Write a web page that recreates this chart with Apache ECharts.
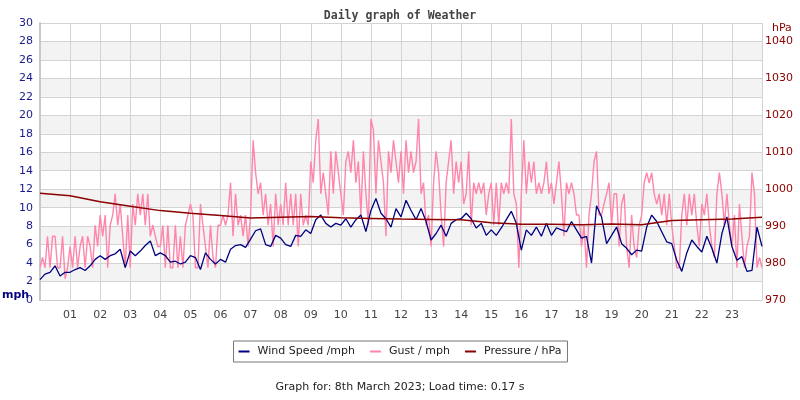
<!DOCTYPE html>
<html>
<head>
<meta charset="utf-8">
<title>Daily graph of Weather</title>
<script src="https://cdn.jsdelivr.net/npm/echarts@6/dist/echarts.min.js"></script>
<style>
  html, body { margin: 0; padding: 0; background: #fff; }
  #chart { width: 800px; height: 400px; }
</style>
</head>
<body>
<div id="chart"></div>
<script>
// hour tick labels (00 and 24 are left blank)
const hourLabels = ['', '01', '02', '03', '04', '05', '06', '07', '08', '09', '10', '11', '12',
  '13', '14', '15', '16', '17', '18', '19', '20', '21', '22', '23', '']

// wind speed, mph, one reading per 10 minutes (00:00 .. 24:00)
const windSpeed = [
  2.2, 2.8, 3.0, 3.7, 2.6, 3.0,
  3.0, 3.3, 3.5, 3.2, 3.7, 4.4,
  4.8, 4.4, 4.8, 5.0, 5.5, 3.5,
  5.3, 4.8, 5.3, 5.9, 6.4, 4.8,
  5.1, 4.8, 4.1, 4.2, 3.9, 4.1,
  4.8, 4.6, 3.3, 5.1, 4.4, 3.9,
  4.4, 4.1, 5.5, 5.9, 6.0, 5.7,
  6.6, 7.5, 7.7, 6.0, 5.8, 7.0,
  6.7, 6.0, 5.8, 7.0, 6.9, 7.6,
  7.2, 8.7, 9.2, 8.3, 7.9, 8.3,
  8.1, 8.8, 7.9, 8.7, 9.2, 7.4,
  9.7, 11.0, 9.4, 8.8, 7.9, 9.9,
  9.0, 10.8, 9.7, 8.7, 9.9, 8.5,
  6.5, 7.2, 8.1, 6.9, 8.3, 8.7,
  8.8, 9.4, 8.8, 7.8, 8.3, 7.0,
  7.6, 7.0, 7.8, 8.7, 9.6, 8.3,
  5.4, 7.6, 7.0, 7.9, 6.9, 8.3,
  7.0, 7.8, 7.6, 7.4, 8.5, 7.6,
  6.7, 6.9, 4.0, 10.2, 9.0, 6.1,
  7.0, 7.9, 6.1, 5.6, 4.9, 5.4,
  5.3, 7.9, 9.2, 8.5, 7.4, 6.3,
  6.1, 4.3, 3.1, 5.1, 6.5, 5.8,
  5.2, 6.9, 5.6, 4.0, 7.2, 9.0,
  5.8, 4.3, 4.7, 3.1, 3.2, 7.9,
  5.8
]

// gust, mph, one reading per 5 minutes (00:00 .. 24:00)
const gust = [
  3.5, 4.6, 3.5, 6.9, 3.5, 6.9, 6.9, 3.5, 3.5, 6.9, 2.3, 3.5,
  5.8, 3.5, 6.9, 3.5, 5.8, 6.9, 3.5, 6.9, 5.8, 3.5, 8.1, 5.8,
  9.2, 6.9, 9.2, 3.5, 8.1, 9.2, 11.5, 8.1, 10.4, 6.9, 3.5, 9.2,
  3.5, 10.4, 8.1, 11.5, 9.2, 11.5, 8.1, 11.5, 6.9, 8.1, 6.9, 5.8,
  5.8, 8.1, 3.5, 8.1, 3.5, 3.5, 8.1, 3.5, 6.9, 3.5, 8.1, 9.2,
  10.4, 9.2, 3.5, 3.5, 10.4, 8.1, 5.8, 3.5, 8.1, 4.6, 3.5, 8.1,
  8.1, 9.2, 8.1, 9.2, 12.7, 6.9, 11.5, 8.1, 9.2, 6.9, 9.2, 5.8,
  9.2, 17.3, 13.8, 11.5, 12.7, 9.2, 11.5, 8.1, 10.4, 5.8, 11.5, 8.1,
  10.4, 8.1, 12.7, 8.1, 11.5, 8.1, 11.5, 5.8, 11.5, 8.1, 9.2, 8.1,
  15.0, 12.7, 17.3, 19.6, 11.5, 13.8, 11.5, 9.2, 16.1, 11.5, 16.1, 13.8,
  11.5, 9.2, 15.0, 16.1, 13.8, 17.3, 12.7, 15.0, 9.2, 16.1, 11.5, 8.1,
  19.6, 18.4, 11.5, 17.3, 15.0, 12.7, 6.9, 16.1, 13.8, 17.3, 15.0, 12.7,
  16.1, 11.5, 17.3, 13.8, 16.1, 13.8, 15.0, 19.6, 11.5, 12.7, 8.1, 9.2,
  5.8, 12.7, 16.1, 13.8, 9.2, 5.8, 12.7, 15.0, 17.3, 11.5, 15.0, 12.7,
  15.0, 10.4, 11.5, 16.1, 8.1, 12.7, 11.5, 12.7, 11.5, 12.7, 9.2, 11.5,
  12.7, 8.1, 12.7, 8.1, 12.7, 11.5, 12.7, 11.5, 19.6, 11.5, 10.4, 3.5,
  11.5, 17.3, 11.5, 15.0, 12.7, 15.0, 11.5, 12.7, 11.5, 12.7, 15.0, 11.5,
  12.7, 10.4, 12.7, 15.0, 11.5, 6.9, 12.7, 11.5, 12.7, 11.5, 9.2, 9.2,
  5.8, 8.1, 3.5, 9.2, 11.5, 15.0, 16.1, 9.2, 9.2, 10.4, 11.5, 12.7,
  8.1, 11.5, 11.5, 5.8, 10.4, 11.5, 5.8, 3.5, 9.2, 5.8, 4.6, 8.1,
  9.2, 12.7, 13.8, 12.7, 13.8, 11.5, 10.4, 11.5, 9.2, 11.5, 8.1, 11.5,
  8.1, 5.8, 3.5, 3.5, 9.2, 11.5, 8.1, 11.5, 9.2, 11.5, 8.1, 5.8,
  10.4, 9.2, 11.5, 8.1, 5.8, 4.6, 11.5, 13.8, 11.5, 8.1, 11.5, 8.1,
  5.8, 9.2, 3.5, 10.4, 6.9, 3.5, 5.8, 6.9, 13.8, 11.5, 3.5, 4.6,
  3.5
]

// pressure, hPa, hourly (00:00 .. 24:00)
const pressure = [
  998.9, 998.2, 996.6, 995.4, 994.2, 993.5, 992.9, 992.2, 992.4, 992.6,
  992.3, 992.1, 991.9, 991.8, 991.7, 990.9, 990.5, 990.5, 990.4, 990.6,
  990.4, 991.5, 991.7, 991.9, 992.4
]

const chart = echarts.init(document.getElementById('chart'))

const font = 'DejaVu Sans'

const option = {
  animation: false,
  backgroundColor: '#fff',
  title: {
    text: 'Daily graph of Weather',
    left: 'center',
    top: 5,
    textStyle: { fontFamily: 'DejaVu Sans Mono', fontWeight: 'bold', fontSize: 11.5, color: '#444' }
  },
  legend: {
    data: ['Wind Speed /mph', 'Gust / mph', 'Pressure / hPa'],
    left: 'center',
    top: 341,
    icon: 'rect',
    itemWidth: 11,
    itemHeight: 2,
    itemGap: 15,
    padding: [5, 6, 5, 5],
    borderColor: '#777',
    borderWidth: 1,
    textStyle: { fontFamily: font, fontSize: 11, color: '#222', padding: [0, 0, 0, 3] }
  },
  grid: { left: 40, right: 38, top: 23, bottom: 100 },
  xAxis: {
    type: 'value',
    min: 0,
    max: 24,
    interval: 1,
    axisLine: { show: true, lineStyle: { color: '#ccc', width: 1 } },
    axisTick: { show: false },
    axisLabel: {
      margin: 10,
      fontFamily: font,
      fontSize: 11,
      color: '#444',
      formatter: v => hourLabels[v] || ''
    },
    splitLine: { show: true, lineStyle: { color: '#d3d3d3', width: 1 } }
  },
  yAxis: [
    {
      type: 'value',
      min: 0,
      max: 30,
      interval: 2,
      axisLine: { show: true, onZero: false, lineStyle: { color: '#c8c8c8', width: 2 } },
      axisTick: { show: false },
      axisLabel: { margin: 7, fontFamily: font, fontSize: 11, color: '#1a1a8c' },
      splitLine: { show: true, lineStyle: { color: '#d3d3d3', width: 1 } },
      splitArea: { show: true, areaStyle: { color: ['#ffffff', '#f3f3f3'] } }
    },
    {
      type: 'value',
      min: 970,
      max: 1045,
      interval: 10,
      position: 'right',
      axisLine: { show: false },
      axisTick: { show: false },
      axisLabel: {
        margin: 3,
        showMaxLabel: false,
        fontFamily: font,
        fontSize: 11,
        color: '#8b0000',
        formatter: v => String(v)
      },
      splitLine: { show: false }
    }
  ],
  graphic: [
    {
      type: 'text',
      left: 2,
      top: 290,
      style: { text: 'mph', fontFamily: font, fontWeight: 'bold', fontSize: 11, fill: '#000080' }
    },
    {
      type: 'text',
      left: 772,
      top: 23,
      style: { text: 'hPa', fontFamily: font, fontSize: 11, fill: '#8b0000' }
    },
    {
      type: 'text',
      left: 'center',
      top: 382,
      style: { text: 'Graph for: 8th March 2023; Load time: 0.17 s', fontFamily: font, fontSize: 11, fill: '#222' }
    }
  ],
  series: [
    {
      name: 'Gust / mph',
      type: 'line',
      symbol: 'none',
      data: gust.map((v, i) => [i / 12, v]),
      lineStyle: { color: '#ff85aa', width: 1.4 },
      itemStyle: { color: '#ff85aa' }
    },
    {
      name: 'Wind Speed /mph',
      type: 'line',
      symbol: 'none',
      data: windSpeed.map((v, i) => [i / 6, v]),
      lineStyle: { color: '#000080', width: 1.3 },
      itemStyle: { color: '#000080' }
    },
    {
      name: 'Pressure / hPa',
      type: 'line',
      symbol: 'none',
      yAxisIndex: 1,
      data: pressure.map((v, i) => [i, v]),
      lineStyle: { color: '#8b0000', width: 1.5 },
      itemStyle: { color: '#8b0000' }
    }
  ]
}

chart.setOption(option)
</script>
</body>
</html>
